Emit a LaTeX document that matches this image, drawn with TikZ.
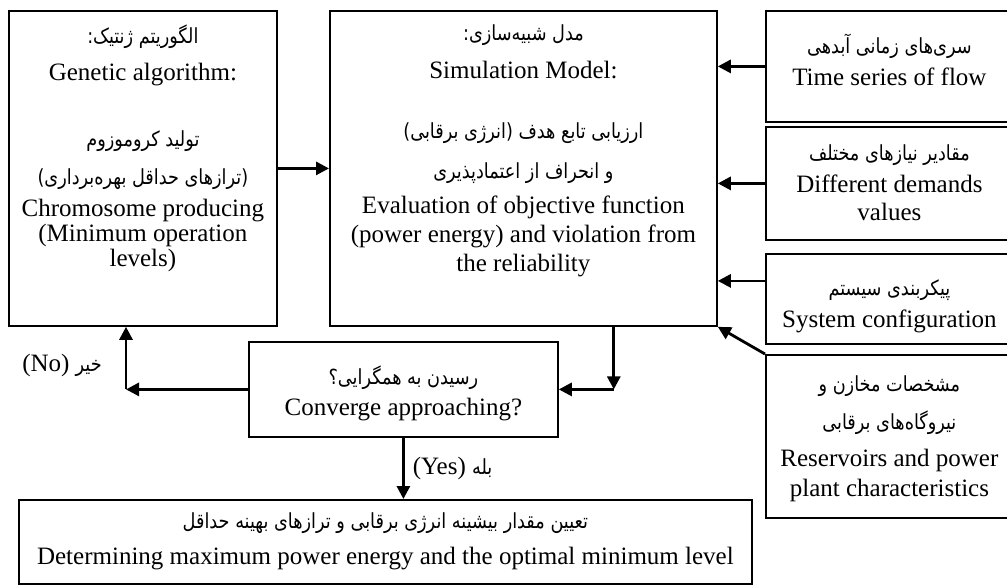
\documentclass[tikz,border=0pt]{standalone}
\usepackage{fontspec}
\setmainfont{Liberation Serif}
\newfontfamily\farsifont[Script=Arabic,FakeStretch=0.85]{DejaVu Sans}
\TeXXeTstate=1
\usetikzlibrary{arrows.meta,positioning}

\newcommand{\fatext}[1]{{\farsifont\fontsize{10.4}{12.5}\selectfont\beginR #1\endR}}

\begin{document}
\begin{tikzpicture}[
x=0.5pt, y=-0.5pt,
box/.style={draw, line width=0.9pt, inner sep=0pt, anchor=north west},
txt/.style={align=center, inner sep=0pt, font=\fontsize{12.5}{12.5}\selectfont},
arrowlabel/.style={inner sep=0pt, font=\fontsize{12.5}{12.5}\selectfont},
arrow/.style={-{Triangle[length=6.5pt,width=6.5pt]}, line width=1.4pt} ]

\useasboundingbox (0,0) rectangle (1007,585);

\node[box, minimum width=134pt, minimum height=157.5pt](ga) at (8,10) {};

\node[box, minimum width=193.5pt, minimum height=157.5pt](sim) at (329,10) {};

\node[box, minimum width=123.5pt, minimum height=55.5pt](flow) at (765,10) {};

\node[box, minimum width=123.5pt, minimum height=56.5pt](demand) at (765,126) {};

\node[box, minimum width=123.5pt, minimum height=45pt](config) at (765,253) {};

\node[box, minimum width=123.5pt, minimum height=81.5pt](reserv) at (765,354) {};

\node[box, minimum width=154.5pt, minimum height=47.5pt](conv) at (248,341) {};

\node[box, minimum width=366.5pt, minimum height=42pt](result) at (18,499) {};

\node[txt, below=7pt of ga.north](gatext) {\fatext{الگوریتم ژنتیک:}\\[6pt]
Genetic algorithm:\\[20.5pt]
\fatext{تولید کروموزوم}\\[6.5pt]
\fatext{(ترازهای حداقل بهره‌برداری)}\\[3.5pt]
Chromosome producing\\
(Minimum operation\\
levels)};

\node[txt, below=7pt of sim.north](simtext) {\fatext{مدل شبیه‌سازی:}\\[6.5pt]
Simulation Model:\\[17.5pt]
\fatext{ارزیابی تابع هدف (انرژی برقابی)}\\[7.5pt]
\fatext{و انحراف از اعتمادپذیری}\\[5pt]
Evaluation of objective function\\[2pt]
(power energy) and violation from\\[2pt]
the reliability};

\node[txt, below=12pt of flow.north](flowtext) {\fatext{سری‌های زمانی آبدهی}\\[3.5pt]
Time series of flow};

\node[txt, below=9pt of demand.north](demandtext) {\fatext{مقادیر نیازهای مختلف}\\[3.5pt]
Different demands\\[1.5pt]
values};

\node[txt, below=13pt of config.north](configtext) {\fatext{پیکربندی سیستم}\\[3.5pt]
System configuration};

\node[txt, below=10.5pt of reserv.north](reservtext) {\fatext{مشخصات مخازن و}\\[6.5pt]
\fatext{نیروگاه‌های برقابی}\\[6pt]
Reservoirs and power\\[2.5pt]
plant characteristics};

\node[txt, below=12pt of conv.north](convtext) {\fatext{رسیدن به همگرایی؟}\\[3pt]
Converge approaching?};

\node[txt, below=6.5pt of result.north](resulttext) {\fatext{تعیین مقدار بیشینه انرژی برقابی و ترازهای بهینه حداقل}\\[5.5pt]
Determining maximum power energy and the optimal minimum level};

\path (conv.east) ++(55,0) coordinate (turn);

\path (conv.west) ++(-122,0) coordinate (back);

\draw[arrow] (ga.east) -- (sim.west);

\draw[arrow] (flow.west) -- (flow.west -| sim.east);

\draw[arrow] (demand.west) -- (demand.west -| sim.east);

\draw[arrow] ([yshift=9pt]config.west) -- ([yshift=9pt]config.west -| sim.east);

\draw[arrow] (reserv.north west) -- (sim.south east);

\draw[arrow] (sim.south -| turn) -- (turn);

\draw[arrow] (turn) -- (conv.east);

\draw[arrow] (conv.west) -- (back);

\draw[arrow] (back) -- (back |- ga.south);

\draw[arrow] (conv.south) -- node[right=4pt, arrowlabel](yeslabel) {(Yes) \fatext{بله}} (conv.south |- result.north);

\node[arrowlabel](nolabel) at (62,365) {(No) \fatext{خیر}};

\end{tikzpicture}
\end{document}
